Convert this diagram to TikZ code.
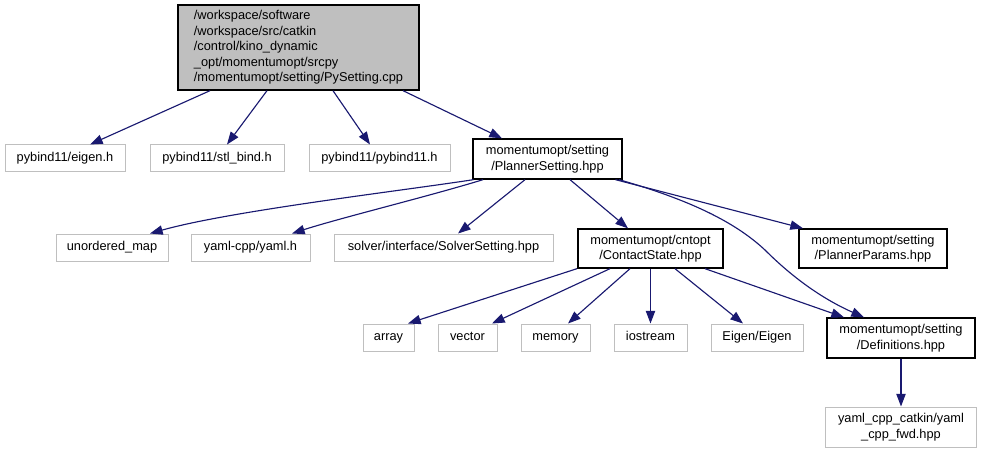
\documentclass[tikz,border=0pt]{standalone}
\usepackage{fontspec}
\setmainfont{Liberation Sans}
\usetikzlibrary{arrows.meta,calc}
\definecolor{edgec}{HTML}{191970}
\definecolor{grayb}{HTML}{BFBFBF}
\begin{document}
\begin{tikzpicture}[x=0.75pt,y=-0.75pt,
  box/.style={rectangle, inner sep=0pt, font=\fontsize{9.6}{11.6}\selectfont, align=center},
  gbox/.style={box, draw=grayb, line width=0.75pt},
  one/.style={text height=7pt, text depth=2pt},
  bbox/.style={box, draw=black, line width=1pt},
  sz/.style 2 args={minimum width=#1*0.75pt, minimum height=#2*0.75pt},
  edge/.style={draw=edgec, line width=0.85pt, -{Triangle[length=9.5pt,width=7pt]}}
]
\useasboundingbox (0,0) rectangle (983,453);

\node[bbox, fill=grayb, sz={241}{85}, align=left] (top) at (298.5,47.5)
  {/workspace/software\\/workspace/src/catkin\\/control/kino\_dynamic\\\_opt/momentumopt/srcpy\\/momentumopt/setting/PySetting.cpp};

\node[gbox, one, sz={120}{27}] (eigen) at (65,158.5) {pybind11/eigen.h};
\node[gbox, one, sz={134}{27}] (stl) at (217,158.5) {pybind11/stl\_bind.h};
\node[gbox, one, sz={141}{27}] (pyb) at (379.5,158.5) {pybind11/pybind11.h};
\node[bbox, sz={149}{40}] (ps) at (547.5,159) {momentumopt/setting\\/PlannerSetting.hpp};

\node[gbox, one, sz={112}{27}] (umap) at (112,247.5) {unordered\_map};
\node[gbox, one, sz={119}{27}] (yaml) at (250.5,247.5) {yaml-cpp/yaml.h};
\node[gbox, one, sz={219}{27}] (solver) at (443.5,247.5) {solver/interface/SolverSetting.hpp};
\node[bbox, sz={145}{39}] (cs) at (650.5,248.5) {momentumopt/cntopt\\/ContactState.hpp};
\node[bbox, sz={148}{39}] (pp) at (873,248.5) {momentumopt/setting\\/PlannerParams.hpp};

\node[gbox, one, sz={51}{27}] (array) at (388.5,337.5) {array};
\node[gbox, one, sz={59}{27}] (vector) at (467.5,337.5) {vector};
\node[gbox, one, sz={69}{27}] (memory) at (555.5,337.5) {memory};
\node[gbox, one, sz={73}{27}] (iostream) at (650.5,337.5) {iostream};
\node[gbox, one, sz={92}{27}] (eigeneigen) at (757,337.5) {Eigen/Eigen};
\node[bbox, sz={148}{40}] (defs) at (901,338) {momentumopt/setting\\/Definitions.hpp};
\node[gbox, sz={151}{40}] (fwd) at (901,427) {yaml\_cpp\_catkin/yaml\\\_cpp\_fwd.hpp};

% top edges
\draw[edge] ($(top.south)+(-88.5,0)$) -- ($(eigen.north)+(25,0)$);
\draw[edge] ($(top.south)+(-31.5,0)$) -- ($(stl.north)+(10,0)$);
\draw[edge] ($(top.south)+(34.5,0)$) -- ($(pyb.north)+(-9.5,0)$);
\draw[edge] ($(top.south)+(104.5,0)$) -- ($(ps.north)+(-45.5,0)$);

% PlannerSetting edges
\draw[edge] ($(ps.south)+(-74,0)$) .. controls (400,191) and (230,211) .. ($(umap.north)+(38,0)$);
\draw[edge] ($(ps.south)+(-64.5,0)$) .. controls (430,196) and (340,218) .. ($(yaml.north)+(41.5,0)$);
\draw[edge] ($(ps.south)+(-22.5,0)$) -- ($(solver.north)+(14.5,0)$);
\draw[edge] ($(ps.south)+(22.5,0)$) -- ($(cs.north)+(-22.5,0)$);
\draw[edge] ($(ps.south)+(68,0)$) -- ($(pp.north)+(-70,0)$);
\draw[edge] ($(ps.south)+(71.5,0)$) .. controls (690,200) and (735,222) .. (765,250)
  .. controls (795,280) and (825,300) .. ($(defs.north)+(-37,0)$);

% ContactState edges
\draw[edge] ($(cs.south)+(-73.5,0)$) -- ($(array.north)+(19.5,0)$);
\draw[edge] ($(cs.south)+(-40.5,0)$) -- ($(vector.north)+(24.5,0)$);
\draw[edge] ($(cs.south)+(-20.5,0)$) -- ($(memory.north)+(12.5,0)$);
\draw[edge] (cs.south) -- (iostream.north);
\draw[edge] ($(cs.south)+(24.5,0)$) -- ($(eigeneigen.north)+(-14,0)$);
\draw[edge] ($(cs.south)+(54.5,0)$) -- ($(defs.north)+(-57,0)$);

% Definitions edge
\draw[edge] (defs.south) -- (fwd.north);
\end{tikzpicture}
\end{document}
